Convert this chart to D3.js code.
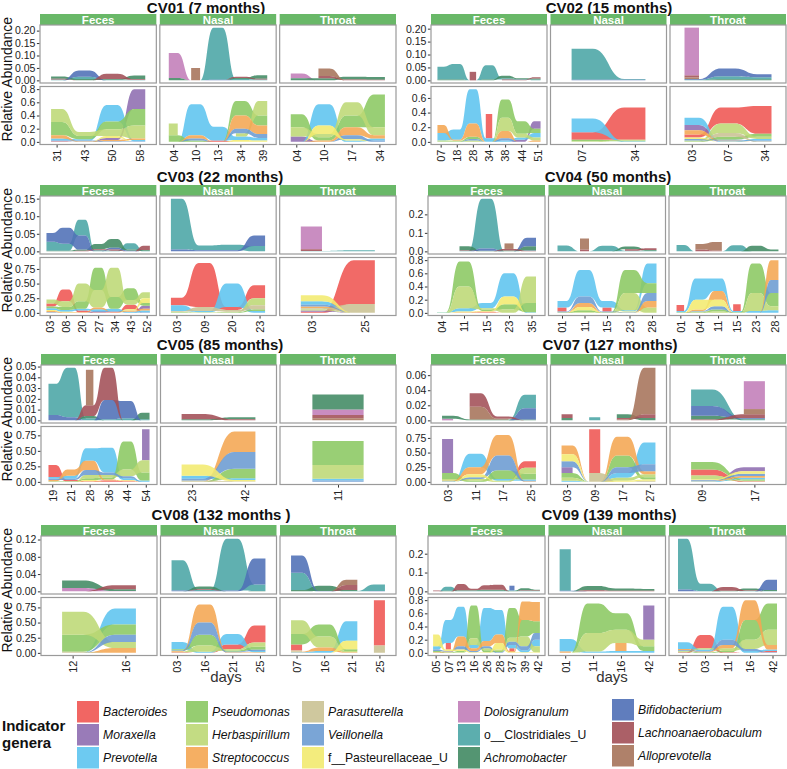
<!DOCTYPE html>
<html><head><meta charset="utf-8">
<script src="https://cdn.jsdelivr.net/npm/d3@7"></script>
<style>
body{margin:0;background:#fff}
text{font-family:"Liberation Sans",Arial,Helvetica,sans-serif}
</style>
</head><body>
<script>
const _ = null;
// ---------- legend / genera ----------
const generaKeys = ["Bac","Mor","Pre","Pse","Her","Str","Par","Vei","Pas","Dol","Clo","Ach","Bif","Lac","All"];
const generaNames = ["Bacteroides","Moraxella","Prevotella","Pseudomonas","Herbaspirillum","Streptococcus","Parasutterella","Veillonella","f__Pasteurellaceae_U","Dolosigranulum","o__Clostridiales_U","Achromobacter","Bifidobacterium","Lachnoanaerobaculum","Alloprevotella"];
const generaColors = ["#EF5552","#8E6DB0","#5DC4EF","#8BC862","#BDD875","#F4A652","#CAC293","#6B9BD2","#F2EA6F","#C17DB8","#4AA5A5","#418A63","#4F6FB6","#A24F57","#A6735A"];
const bottomGenera = ["Bac","Mor","Pre","Pse","Her","Str","Par","Vei","Pas"];
const topGenera = ["Dol","Clo","Ach","Bif","Lac","All"];
const facets = ["Feces","Nasal","Throat"];
const patients = ["CV01","CV02","CV03","CV04","CV05","CV07","CV08","CV09"];
const patientTitles = ["CV01 (7 months)","CV02 (15 months)","CV03 (22 months)","CV04 (50 months)","CV05 (85 months)","CV07 (127 months)","CV08 (132 months )","CV09 (139 months)"];
const topTicks = [[0,.05,.1,.15,.2],[0,.05,.1,.15,.2],[0,.05,.1,.15],[0,.1,.2],[0,.01,.02,.03,.04,.05],[0,.02,.04,.06],[0,.04,.08,.12],[0,.1,.2]];
const topFormats = [".2f",".2f",".2f",".1f",".2f",".2f",".2f",".1f"];
const bottomTicks = [[0,.2,.4,.6,.8],[0,.2,.4,.6],[0,.25,.5,.75],[0,.2,.4,.6,.8],[0,.25,.5,.75],[0,.25,.5,.75],[0,.25,.5,.75],[0,.2,.4,.6,.8]];
const bottomFormats = [".1f",".1f",".2f",".1f",".2f",".2f",".2f",".1f"];

// ---------- data ----------
const CV01 = {
 Feces:{days:["31","43","50","58"],
  Bac:[.01,0,0,0],Mor:[0,0,.03,.3],Pre:[.03,.02,.25,.02],Pse:[.2,.05,.12,.25],Her:[.2,.06,.1,.2],Str:[.05,.01,.02,.02],Vei:[.01,.01,.01,.01],Pas:[0,0,.03,0],
  Clo:[.003,.01,.002,.002],Ach:[.01,.005,.003,.015],Bif:[0,.025,0,0],Lac:[.003,0,.022,.003]},
 Nasal:{days:["04","10","13","34","39"],
  Bac:[0,0,.02,0,0],Pre:[0,.47,.21,.05,.04],Pse:[.1,.02,0,.22,.15],Her:[.18,_,_,.05,.22],Str:[0,.05,0,.2,.13],Vei:[0,.03,0,.07,.06],Pas:[0,0,0,.03,.02],
  Dol:[.1,0,_,_,_],Clo:[0,0,.21,.005,.003],Ach:[.01,0,0,.005,.015],All:[_,.05,_,_,_],Lac:[_,_,0,.005,.003],Bif:[0,0,.002,0,0]},
 Throat:{days:["04","10","17","34"],
  Mor:[.08,0,0,0],Pre:[0,.32,.02,.03],Pse:[.2,.05,.18,.5],Her:[.14,.05,.2,.12],Str:[0,.02,.12,.05],Vei:[0,0,.06,.02],Pas:[0,.13,.02,0],
  Dol:[.02,0,_,_],Ach:[.008,.008,.012,.012],All:[_,.03,0,_],Lac:[_,.01,.003,.002]}
};
const CV02 = {
 Feces:{days:["07","18","28","34","38","44","51"],
  Bac:[_,_,_,.33,_,_,_],Mor:[0,0,0,0,0,.03,.1],Pre:[.1,.14,.47,.05,.02,.03,.06],Pse:[.01,.01,.03,0,.25,.17,.06],Her:[.01,.01,.02,0,.18,.05,.04],Str:[.11,.01,.18,0,.1,0,.02],Vei:[0,0,.02,0,.03,0,0],
  Clo:[.05,.06,0,.055,.005,.003,.003],Ach:[.003,.003,0,.003,.01,.003,.004],Lac:[_,_,.033,_,.003,.002,.005]},
 Nasal:{days:["07","34"],
  Bac:[.1,.44],Pre:[.19,.01],Pse:[.02,.01],Her:[.01,.01],
  Clo:[.12,.003],Bif:[.002,.002]},
 Throat:{days:["03","07","34"],
  Bac:[.04,.22,.38],Mor:[.07,0,0],Pre:[.1,.01,.02],Pse:[.01,.04,.04],Her:[.01,.13,.03],Str:[.06,.01,0],Par:[0,.05,.01],Vei:[.02,.01,.01],Pas:[.02,0,0],
  Dol:[.185,_,_],Clo:[.002,.012,.008],Ach:[0,.004,.004],Bif:[.003,.03,.012],Lac:[.008,_,_],All:[.006,_,_]}
};
const CV03 = {
 Feces:{days:["03","08","20","27","34","43","52"],
  Bac:[.05,.2,.03,.01,.01,.08,0],Mor:[0,0,0,0,0,0,.05],Pre:[.03,.03,.03,.03,.04,.02,.03],Pse:[.03,.05,.13,.38,.2,.2,.05],Her:[.07,.1,.3,.3,.5,.08,.1],Str:[.02,.01,.01,.03,.01,.02,.03],Vei:[.01,0,0,.02,.01,0,.01],Pas:[.02,.01,0,0,0,.02,.08],
  Clo:[.025,.02,.045,.003,.002,.018,.002],Ach:[.002,.002,.003,.015,.025,.003,.002],Bif:[.025,.045,.04,0,.005,.002,0],Lac:[0,0,.002,.003,.003,0,.012]},
 Nasal:{days:["03","09","20","23"],
  Bac:[.13,.75,.05,.22],Pre:[.1,.02,.4,.03],Pse:[.01,0,.01,.03],Her:[.01,.01,.01,.12],Par:[.01,.07,.03,.07],
  Clo:[.145,.014,.016,.015],Bif:[.005,.003,.003,.03]},
 Throat:{days:["03","25"],
  Bac:[.02,.75],Mor:[.02,0],Pre:[.06,0],Her:[.02,0],Str:[.03,0],Par:[.02,.15],Vei:[.03,0],Pas:[.1,0],
  Dol:[.065,_],Clo:[.001,.003],Lac:[.005,_]}
};
const CV04 = {
 Feces:{days:["04","11","15","23","35"],
  Bac:[0,0,.01,0,0],Pre:[.003,.05,.08,.35,.01],Pse:[.005,.38,.02,.08,.14],Her:[.002,.33,.02,.05,.4],Str:[0,.01,.01,0,0],Pas:[0,.01,.01,.12,0],
  Clo:[_,.003,.27,0,.005],Ach:[_,.022,.003,.005,.02],Bif:[_,0,.012,0,.045],Lac:[_,.003,0,.008,.003],All:[_,_,_,.03,_]},
 Nasal:{days:["01","11","15","23","28"],
  Bac:[.06,_,.06,_,_],Pre:[.1,.4,.1,.02,.3],Pse:[.01,.03,.01,.35,.15],Her:[0,.01,0,.26,.08],Str:[0,.06,0,0,.1],Vei:[.01,.1,.01,.01,.12],Pas:[0,.05,0,.01,0],
  Clo:[.032,0,.03,.003,.003],Ach:[0,0,0,.015,.004],Lac:[_,.01,_,.008,.01],All:[_,.06,_,_,_]},
 Throat:{days:["01","04","11","15","23","28"],
  Bac:[.09,_,_,.1,_,_],Pre:[.02,.32,.19,.02,.03,.04],Pse:[.01,.01,.03,.01,.45,.2],Her:[0,.01,.02,0,.27,.06],Str:[0,.02,.13,0,0,.3],Vei:[0,.01,.05,0,0,.2],Pas:[0,.15,.1,0,0,0],
  Clo:[.035,0,0,.033,0,0],Ach:[0,0,0,0,.03,.01],Lac:[_,.01,.005,_,_,_],All:[_,.03,.045,_,_,_]}
};
const CV05 = {
 Feces:{days:["19","21","28","36","44","54"],
  Bac:[.19,.02,.01,.02,.01,0],Mor:[_,_,_,_,_,.5],Pre:[.03,.05,.2,.4,.03,.02],Pse:[.01,.01,.03,.03,.45,.13],Her:[0,0,.05,.04,.11,.2],Str:[.02,.1,.15,.02,.01,0],Vei:[.02,.02,.08,.04,.03,0],Pas:[0,0,.02,0,.01,0],
  Clo:[.029,.046,.002,.001,.002,.001],Ach:[0,0,.002,0,0,.006],Bif:[.005,.003,0,.018,.016,0],Lac:[0,0,.01,.03,0,0],All:[_,_,.033,_,_,_]},
 Nasal:{days:["23","42"],
  Pre:[.05,.03],Pse:[0,.15],Str:[0,.33],Par:[.02,.01],Vei:[.03,.27],Pas:[.18,.02],
  Ach:[.001,.002],Lac:[.005,.001]},
 Throat:{days:["11"],
  Pre:[.03],Pse:[.39],Her:[.22],Vei:[.02],
  Dol:[.005],Ach:[.014],Lac:[.003],All:[.002]}
};
const CV07 = {
 Feces:{days:["03","11","17","25"],
  Bac:[0,0,0,.11],Mor:[.58,_,_,_],Pre:[.01,.23,.03,.02],Pse:[.1,.02,.15,.1],Her:[.03,.03,.02,.1],Str:[.01,.12,.35,.01],Vei:[0,.03,.25,.01],Pas:[0,.05,0,0],
  Dol:[.002,_,_,_],Clo:[0,0,0,.018],Ach:[.004,.001,.001,.001],Bif:[0,0,0,.015],Lac:[_,.018,.003,0],All:[_,.017,.001,_]},
 Nasal:{days:["03","09","17","27"],
  Bac:[_,.75,_,_],Mor:[.1,_,_,_],Pre:[.02,0,.08,.37],Pse:[.08,0,.2,.04],Her:[.05,0,.05,.05],Str:[.15,0,.32,.05],Par:[_,.15,0,.02],Vei:[.1,0,.1,.12],Pas:[.12,0,.02,.02],
  Clo:[_,.004,_,_],Ach:[.003,_,.005,.003],Lac:[.005,_,.002,.005],All:[_,_,.001,.062]},
 Throat:{days:["09","17"],
  Bac:[.1,.01],Mor:[0,.07],Pre:[.01,.03],Pse:[.13,.02],Her:[.07,.01],Str:[.01,.03],Vei:[.01,.04],Pas:[.01,.04],
  Dol:[_,.037],Clo:[.022,.001],Ach:[.005,.001],Bif:[.013,.001],Lac:[.001,.005],All:[_,.007]}
};
const CV08 = {
 Feces:{days:["12","16"],
  Pre:[0,.26],Pse:[.28,.17],Her:[.38,.1],Str:[0,.08],Par:[.02,0],Vei:[0,.12],
  Dol:[.008,.001],Ach:[.017,.004],Lac:[0,.009]},
 Nasal:{days:["03","16","21","25"],
  Bac:[.01,0,.08,.28],Pre:[.12,.02,.17,.02],Pse:[.02,.18,.02,.05],Her:[.01,.1,.02,.07],Str:[.01,.3,.01,.01],Vei:[.01,.2,.01,.02],
  Clo:[.07,.002,.12,.015],Ach:[0,.006,0,.001],Bif:[.002,.001,.002,.06],Lac:[0,.002,0,0]},
 Throat:{days:["07","16","21","25"],
  Bac:[.1,_,_,.75],Pre:[.01,.03,.32,_],Pse:[.17,.2,.03,_],Her:[.23,.18,.02,_],Str:[.01,.06,.01,_],Par:[.02,_,_,.12],Pas:[0,0,.14,_],
  Clo:[.04,0,.001,.015],Ach:[.003,.012,.002,_],Bif:[.04,.001,0,.001],Lac:[_,0,.012,_],All:[_,0,.012,_]}
};
const CV09 = {
 Feces:{days:["05","07","13","16","26","28","37","39","42"],
  Bac:[_,.1,_,_,_,_,.04,_,_],Pre:[.05,.35,.45,.05,.5,.37,.05,.03,.1],Pse:[.02,.01,.02,.5,.03,.02,.45,.25,.18],Her:[0,0,.01,.1,.03,.02,.06,.15,.09],Str:[.01,.01,.15,.04,.08,.13,.02,.28,.29],Vei:[.02,.01,.05,.02,.03,.01,.05,.06,.1],Pas:[.18,.02,.02,.01,.01,.1,.01,.01,.01],
  Clo:[0,.022,.003,.003,.003,.003,.003,.003,.002],Ach:[0,.003,.003,.003,.005,.005,.002,.01,.005],Bif:[_,_,_,_,_,_,.025,_,_],Lac:[.005,0,.033,.008,.025,.027,0,.003,.002]},
 Nasal:{days:["01","11","16","42"],
  Mor:[_,_,_,.52],Pre:[.19,.02,.03,.03],Pse:[0,.45,.25,.07],Her:[0,.28,.2,.1],Str:[.02,_,.12,_],
  Clo:[.22,_,_,_],Ach:[0,.022,.012,.01],Bif:[.003,.001,.001,.001],Lac:[0,.005,.002,.002]},
 Throat:{days:["01","03","11","16","42"],
  Bac:[.01,.2,.01,0,.02],Pre:[.1,.02,.5,.03,.02],Pse:[.01,.01,.02,.3,.4],Her:[.01,.02,.04,.14,.23],Str:[.02,.01,.05,.3,.07],Vei:[.01,.01,.08,.03,.01],
  Clo:[.27,.04,0,.002,.002],Ach:[0,0,.003,.01,.005],Bif:[.01,.001,0,0,.055],Lac:[0,0,.02,.003,0]}
};
const patientData = [CV01,CV02,CV03,CV04,CV05,CV07,CV08,CV09];

// ---------- layout ----------
const W = 787, H = 769;
const colorOf = {}; generaKeys.forEach((k,i)=>colorOf[k]=generaColors[i]);
const stripTops = [14,185,354,525];
const titleYs = [8,177,345,515];
const titleXs = [206,609,220,608,220,610,221,609];
const panelLefts = [40,431,40,428,41,431,41,428];
const colRights = [396,786];
const stripH = 11, topH = 58, vGap = 3.5, botH = 58, hGap = 3.5;

const svg = d3.select("body").append("svg").attr("width",W).attr("height",H);
const defs = svg.append("defs");
let clipN = 0;

function stackTotals(fd, keys){
  const n = fd.days.length; let m = 0;
  for(let i=0;i<n;i++){ let s=0; keys.forEach(k=>{ if(fd[k] && fd[k][i]!=null) s+=fd[k][i]; }); m=Math.max(m,s); }
  return m;
}

function drawFlows(g, fd, keys, x, y){
  const n = fd.days.length;
  const present = keys.filter(k=>fd[k]);
  const pos = {}; present.forEach(k=>pos[k]=new Array(n).fill(null));
  for(let i=0;i<n;i++){
    const items = present.filter(k=>fd[k][i]!=null)
      .map(k=>({k, v:fd[k][i], o:keys.indexOf(k)}))
      .sort((a,b)=>a.v-b.v || a.o-b.o);
    let c = 0; items.forEach(it=>{ pos[it.k][i]=[c,c+it.v]; c+=it.v; });
  }
  const hw = x.step()*(n===1?0.53:0.4)/2;
  present.forEach(k=>{
    const p = pos[k]; let i=0;
    while(i<n){
      if(p[i]===null){ i++; continue; }
      let j=i; while(j+1<n && p[j+1]!==null) j++;
      let d = "";
      for(let t=i;t<=j;t++){
        const cx = x(fd.days[t]), yy = y(p[t][1]);
        if(t===i) d += `M${cx-hw},${yy}`;
        else { const px = x(fd.days[t-1])+hw, py = y(p[t-1][1]), mx = (px+cx-hw)/2; d += `C${mx},${py} ${mx},${yy} ${cx-hw},${yy}`; }
        d += `L${cx+hw},${yy}`;
      }
      for(let t=j;t>=i;t--){
        const cx = x(fd.days[t]), yy = y(p[t][0]);
        if(t===j) d += `L${cx+hw},${yy}`;
        else { const px = x(fd.days[t+1])-hw, py = y(p[t+1][0]), mx = (px+cx+hw)/2; d += `C${mx},${py} ${mx},${yy} ${cx+hw},${yy}`; }
        d += `L${cx-hw},${yy}`;
      }
      d += "Z";
      g.append("path").attr("d",d).attr("fill",colorOf[k]).attr("fill-opacity",0.88);
      i = j+1;
    }
  });
}

patients.forEach((pid,pi)=>{
  const row = Math.floor(pi/2), col = pi%2;
  const data = patientData[pi];
  const st = stripTops[row];
  const topY0 = st+stripH, topY1 = topY0+topH;
  const botY0 = topY1+vGap, botY1 = botY0+botH;
  const left = panelLefts[pi], right = colRights[col];
  const fw = (right-left-2*hGap)/3;

  // title
  svg.append("text").attr("x",titleXs[pi]).attr("y",titleYs[row]).attr("dy","0.35em")
    .attr("text-anchor","middle").style("font-weight","bold").style("font-size","15px").attr("fill","#111")
    .text(patientTitles[pi]);

  // y domain per layer (shared across facets)
  const topMax = d3.max(facets, f=>stackTotals(data[f], topGenera));
  const botMax = d3.max(facets, f=>stackTotals(data[f], bottomGenera));
  const yTop = d3.scaleLinear().domain([-0.05*topMax, 1.05*topMax]).range([topY1, topY0]);
  const yBot = d3.scaleLinear().domain([-0.05*botMax, 1.05*botMax]).range([botY1, botY0]);

  if(col===0){
    svg.append("text").attr("transform",`translate(12,${(st+botY1)/2}) rotate(-90)`)
      .attr("text-anchor","middle").style("font-size","14px").attr("fill","#111").text("Relative Abundance");
  }
  if(row===3){
    svg.append("text").attr("x", col===0?226:612).attr("y",682).attr("text-anchor","middle")
      .style("font-size","15px").attr("fill","#333").text("days");
  }

  facets.forEach((f,fi)=>{
    const fd = data[f];
    const x0 = left + fi*(fw+hGap), x1 = x0+fw;
    const x = d3.scalePoint().domain(fd.days).range([x0,x1]).padding(0.6);

    // strip
    svg.append("rect").attr("x",x0).attr("y",st).attr("width",fw).attr("height",stripH).attr("fill","#69B868");
    svg.append("text").attr("x",(x0+x1)/2).attr("y",st+stripH/2).attr("dy","0.36em").attr("text-anchor","middle")
      .style("font-family","'Liberation Sans Narrow','Arial Narrow',sans-serif").style("font-weight","bold")
      .style("font-size","11.5px").attr("fill","#fff").text(f);

    [[topGenera,yTop,topY0,topY1],[bottomGenera,yBot,botY0,botY1]].forEach(([keys,y,py0,py1])=>{
      const id = "clip"+(clipN++);
      defs.append("clipPath").attr("id",id).append("rect").attr("x",x0).attr("y",py0).attr("width",fw).attr("height",py1-py0);
      svg.append("rect").attr("x",x0).attr("y",py0).attr("width",fw).attr("height",py1-py0).attr("fill","#fff");
      const g = svg.append("g").attr("clip-path",`url(#${id})`);
      drawFlows(g, fd, keys, x, y);
      svg.append("rect").attr("x",x0).attr("y",py0).attr("width",fw).attr("height",py1-py0)
        .attr("fill","none").attr("stroke","#9a9a9a").attr("stroke-width",1.2);
    });

    if(fi===0){
      const ax1 = svg.append("g").attr("transform",`translate(${x0-0.6},0)`)
        .call(d3.axisLeft(yTop).tickValues(topTicks[pi]).tickFormat(d3.format(topFormats[pi])).tickSize(2.5).tickPadding(1.5));
      const ax2 = svg.append("g").attr("transform",`translate(${x0-0.6},0)`)
        .call(d3.axisLeft(yBot).tickValues(bottomTicks[pi]).tickFormat(d3.format(bottomFormats[pi])).tickSize(2.5).tickPadding(1.5));
      [ax1,ax2].forEach(a=>{
        a.select(".domain").remove();
        a.selectAll("line").attr("stroke","#333");
        a.selectAll("text").style("font-size","10.5px").style("font-family","'Liberation Sans',Arial,sans-serif").attr("fill","#222");
      });
    }
    const axb = svg.append("g").attr("transform",`translate(0,${botY1+0.6})`)
      .call(d3.axisBottom(x).tickSize(2.5));
    axb.select(".domain").remove();
    axb.selectAll("line").attr("stroke","#333");
    axb.selectAll("text").attr("transform","rotate(-90)").attr("x",-4.5).attr("y",0).attr("dy","0.35em")
      .style("text-anchor","end").style("font-size","11px").style("font-family","'Liberation Sans',Arial,sans-serif").attr("fill","#222");
  });
});

// ---------- legend ----------
svg.append("text").attr("x",2).attr("y",731).style("font-weight","bold").style("font-size","15px").attr("fill","#111").text("Indicator");
svg.append("text").attr("x",2).attr("y",748).style("font-weight","bold").style("font-size","15px").attr("fill","#111").text("genera");
const legColX = [77,186,302,458,612];
const legRowY = [[701,724,747],[701,724,747],[701,724,747],[701,724,747],[699,722,745]];
generaKeys.forEach((k,i)=>{
  const c = Math.floor(i/3), r = i%3;
  const kx = legColX[c], ky = legRowY[c][r];
  svg.append("rect").attr("x",kx).attr("y",ky).attr("width",22).attr("height",21.5).attr("fill",colorOf[k]).attr("fill-opacity",0.9);
  const nm = generaNames[i];
  svg.append("text").attr("x",kx+26).attr("y",ky+11).attr("dy","0.35em")
    .style("font-size","12.2px").style("font-style", nm.includes("__")?"normal":"italic").attr("fill","#111").text(nm);
});
</script>
</body></html>
